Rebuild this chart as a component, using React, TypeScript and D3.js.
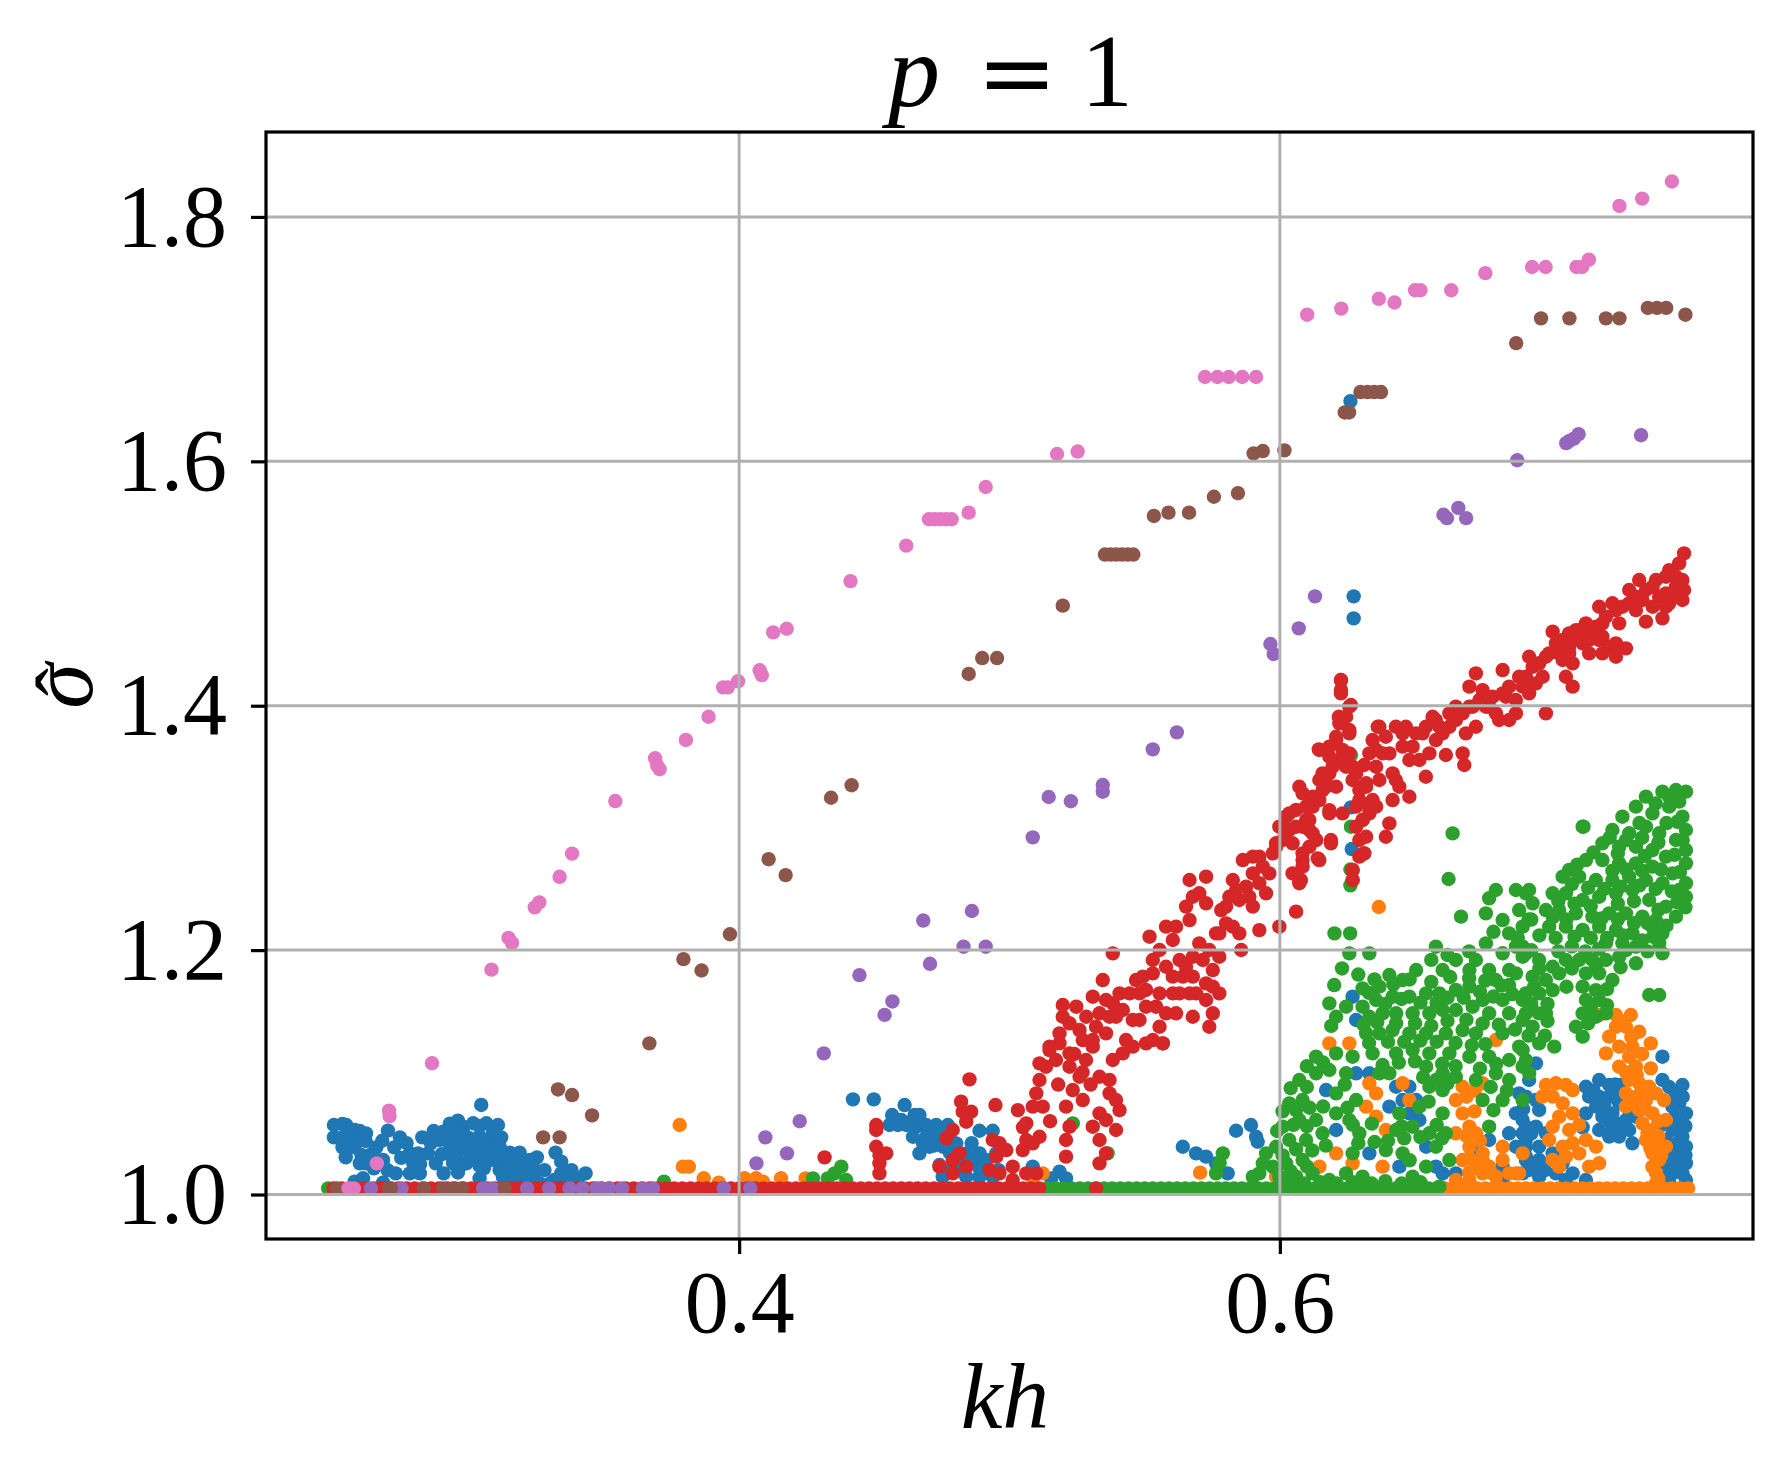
import { useEffect, useRef } from 'react';
import * as d3 from 'd3';

type Pt = [number, number];

// axis ticks
const xTicks = [0.4, 0.6];
const yTicks = [1.0, 1.2, 1.4, 1.6, 1.8];

// the flat row of points sitting just above sigma = 1
const floorLevel = 1.005;
const redFloorX = [
  0.25, 0.253, 0.256, 0.259, 0.262, 0.265, 0.268, 0.271, 0.274, 0.277, 0.28, 0.283, 0.286, 0.289, 0.292,
  0.295, 0.298, 0.301, 0.304, 0.307, 0.31, 0.313, 0.316, 0.319, 0.322, 0.325, 0.328, 0.331, 0.334, 0.337,
  0.34, 0.343, 0.346, 0.349, 0.352, 0.355, 0.358, 0.361, 0.364, 0.367, 0.37, 0.373, 0.376, 0.379, 0.382,
  0.385, 0.388, 0.391, 0.394, 0.397, 0.4, 0.403, 0.406, 0.409, 0.412, 0.415, 0.418, 0.421, 0.424, 0.427,
  0.43, 0.433, 0.436, 0.439, 0.442, 0.445, 0.448, 0.451, 0.454, 0.457, 0.46, 0.463, 0.466, 0.469, 0.472,
  0.475, 0.478, 0.481, 0.484, 0.487, 0.49, 0.493, 0.496, 0.499, 0.502, 0.505, 0.508, 0.511,
];
const greenFloorX = [
  0.248, 0.514, 0.517, 0.52, 0.523, 0.526, 0.529, 0.532, 0.535, 0.538, 0.541, 0.544, 0.547, 0.55, 0.553,
  0.556, 0.559, 0.562, 0.565, 0.568, 0.571, 0.574, 0.577, 0.58, 0.583, 0.586, 0.589, 0.592, 0.595, 0.598,
  0.601, 0.604, 0.607, 0.61, 0.613, 0.616, 0.619, 0.622, 0.625, 0.628, 0.631, 0.634, 0.637, 0.64, 0.643,
  0.646, 0.649, 0.652, 0.655, 0.658,
];
const orangeFloorX = [
  0.661, 0.664, 0.667, 0.67, 0.673, 0.676, 0.679, 0.682, 0.685, 0.688, 0.691, 0.694, 0.697, 0.7, 0.703,
  0.706, 0.709, 0.712, 0.715, 0.718, 0.721, 0.724, 0.727, 0.73, 0.733, 0.736, 0.739, 0.742, 0.745, 0.748,
  0.751,
];
const purpleFloorX = [
  0.2566, 0.2638, 0.2751, 0.3053, 0.3088, 0.3216, 0.3297, 0.3373, 0.342, 0.3472, 0.3491, 0.3519, 0.3567,
  0.3644, 0.3681, 0.3943, 0.4041,
];
const brownFloorX = [0.2512, 0.2705, 0.2712, 0.2834, 0.2905, 0.2942, 0.2974, 0.3133];
const pinkFloorX = [0.2555, 0.2575];

const bluePts: Pt[] = [
  [0.2501, 1.0569], [0.2533, 1.0577], [0.2547, 1.0569], [0.2578, 1.0528], [0.2597, 1.052], [0.2501, 1.0468],
  [0.2529, 1.0468], [0.256, 1.0468], [0.2591, 1.0474], [0.2619, 1.0438], [0.2533, 1.0386], [0.2545, 1.0304],
  [0.2578, 1.0386], [0.2603, 1.0324], [0.2597, 1.0255], [0.2621, 1.0255], [0.2658, 1.0386], [0.2649, 1.0214],
  [0.2683, 1.0283], [0.2701, 1.0523], [0.2724, 1.0386], [0.2745, 1.0468], [0.273, 1.0173], [0.2782, 1.0337],
  [0.2812, 1.0337], [0.2828, 1.0468], [0.2849, 1.0337], [0.2878, 1.0255], [0.2907, 1.0173], [0.2819, 1.0173],
  [0.2794, 1.0261], [0.2782, 1.0173], [0.2683, 1.0097], [0.2578, 1.0105], [0.2609, 1.0133], [0.2905, 1.0514],
  [0.296, 1.0604], [0.3016, 1.0583], [0.3065, 1.0583], [0.3108, 1.0569], [0.312, 1.0468], [0.2892, 1.0446],
  [0.2929, 1.0419], [0.2966, 1.0446], [0.3003, 1.046], [0.304, 1.0474], [0.3077, 1.046], [0.2917, 1.0337],
  [0.2954, 1.031], [0.2991, 1.0364], [0.3028, 1.0351], [0.3065, 1.0364], [0.3102, 1.0337], [0.2942, 1.0255],
  [0.2991, 1.0255], [0.304, 1.0234], [0.3083, 1.0283], [0.3114, 1.0392], [0.3046, 1.0733], [0.304, 1.0133],
  [0.3056, 1.0214], [0.3151, 1.0343], [0.3188, 1.0343], [0.3114, 1.0201], [0.3151, 1.0228], [0.3188, 1.0255],
  [0.3225, 1.0283], [0.3252, 1.0304], [0.3213, 1.0173], [0.3163, 1.0146], [0.3237, 1.0146], [0.3139, 1.0092],
  [0.3188, 1.0092], [0.3262, 1.0092], [0.3321, 1.0343], [0.3342, 1.0269], [0.3342, 1.0173], [0.3317, 1.0119],
  [0.3361, 1.0133], [0.3404, 1.0133], [0.3432, 1.0173], [0.2979, 1.0555], [0.309, 1.0514], [0.2936, 1.0514],
  [0.3022, 1.0419], [0.3059, 1.0419], [0.2954, 1.0392], [0.3114, 1.0283], [0.3016, 1.0283], [0.2966, 1.0228],
  [0.3176, 1.0173], [0.3237, 1.0228], [0.3126, 1.0146], [0.3213, 1.0092],
  [0.256, 1.052], [0.262, 1.05], [0.264, 1.033], [0.268, 1.044], [0.27, 1.02], [0.275, 1.03], [0.277, 1.042],
  [0.286, 1.042], [0.287, 1.052], [0.29, 1.033], [0.293, 1.058], [0.298, 1.05], [0.3, 1.04], [0.304, 1.056],
  [0.308, 1.04], [0.31, 1.045], [0.313, 1.026], [0.316, 1.03], [0.32, 1.02], [0.328, 1.02], [0.33, 1.009],
  [0.338, 1.02], [0.296, 1.018], [0.306, 1.03], [0.282, 1.025],
  [0.4421, 1.0779], [0.4498, 1.0779], [0.4612, 1.0732], [0.4566, 1.0651], [0.4649, 1.0651], [0.4667, 1.0651],
  [0.4556, 1.0569], [0.4587, 1.0569], [0.4618, 1.0569], [0.4655, 1.0555], [0.4692, 1.0569], [0.4729, 1.0569],
  [0.4772, 1.0569], [0.4643, 1.0473], [0.4692, 1.0473], [0.4729, 1.0473], [0.4778, 1.046], [0.4667, 1.0337],
  [0.4704, 1.0391], [0.4754, 1.0391], [0.4803, 1.0418], [0.4889, 1.0522], [0.4938, 1.0522], [0.484, 1.0337],
  [0.4889, 1.0337], [0.4914, 1.0282], [0.4951, 1.0337], [0.4741, 1.0241], [0.479, 1.0228], [0.484, 1.0228],
  [0.4889, 1.0214], [0.4753, 1.0146], [0.484, 1.0146], [0.4889, 1.0146], [0.4938, 1.0146], [0.5086, 1.0228],
  [0.5185, 1.0187], [0.5209, 1.0132], [0.5154, 1.0132], [0.5641, 1.0391], [0.569, 1.0337], [0.5727, 1.031],
  [0.5838, 1.0522], [0.5893, 1.0569], [0.5912, 1.0473], [0.5918, 1.0432], [0.5807, 1.0173], [0.5764, 1.0255],
  [0.46, 1.061], [0.464, 1.06], [0.47, 1.052], [0.474, 1.052], [0.468, 1.042], [0.472, 1.04], [0.478, 1.034],
  [0.482, 1.03], [0.486, 1.028], [0.49, 1.026], [0.496, 1.02], [0.483, 1.018], [0.486, 1.042],
  [0.643, 1.0882], [0.6479, 1.0882], [0.6454, 1.0773], [0.6504, 1.0773], [0.6405, 1.0719], [0.6479, 1.0664],
  [0.6516, 1.061], [0.6873, 1.0664], [0.6898, 1.061], [0.6848, 1.0501], [0.6898, 1.0501], [0.6873, 1.0391],
  [0.691, 1.0391], [0.691, 1.0282], [0.6898, 1.0173], [0.6824, 1.0228], [0.6602, 1.0173], [0.6577, 1.0228],
  [0.6541, 1.0391], [0.6282, 1.0992], [0.6171, 1.0855], [0.6208, 1.0528], [0.6331, 1.0992], [0.6269, 1.1619],
  [0.6282, 1.1428], [0.6651, 1.0173], [0.6331, 1.0337], [0.6442, 1.0228], [0.6725, 1.0337], [0.6774, 1.0446],
  [0.6824, 1.0119],
  [0.6947, 1.1073], [0.7415, 1.1128], [0.7489, 1.0896], [0.7132, 1.0882], [0.7181, 1.0937], [0.7218, 1.0896],
  [0.7255, 1.0896], [0.7144, 1.0801], [0.7181, 1.0801], [0.7218, 1.0801], [0.7255, 1.0746], [0.723, 1.0664],
  [0.728, 1.061], [0.7132, 1.0664], [0.7193, 1.0637], [0.6885, 1.0828], [0.691, 1.0801], [0.6947, 1.0773],
  [0.6959, 1.0692], [0.691, 1.0555], [0.6947, 1.0555], [0.6984, 1.0501], [0.691, 1.0446], [0.6959, 1.0392],
  [0.691, 1.031], [0.6959, 1.0283], [0.6922, 1.0201], [0.6959, 1.0146], [0.7083, 1.0173], [0.7132, 1.0119],
  [0.7181, 1.0528], [0.723, 1.0528], [0.7255, 1.0474], [0.7304, 1.0419], [0.7292, 1.0528], [0.7465, 1.0828],
  [0.7477, 1.0746], [0.7502, 1.0664], [0.7465, 1.0637], [0.7452, 1.0528], [0.7489, 1.0474], [0.7502, 1.0392],
  [0.7477, 1.031], [0.7502, 1.0256], [0.7489, 1.0173], [0.7452, 1.0173], [0.7428, 1.0146], [0.7502, 1.0119],
  [0.7317, 1.0637], [0.7403, 1.0555], [0.7415, 1.0937], [0.7428, 1.0446], [0.7452, 1.0719], [0.6922, 1.0937],
  [0.7021, 1.0173], [0.7058, 1.0119], [0.7218, 1.0474], [0.7009, 1.0337], [0.7046, 1.0256], [0.6885, 1.0664],
  [0.7477, 1.0555],
  [0.744, 1.088], [0.746, 1.078], [0.749, 1.08], [0.75, 1.056], [0.744, 1.06], [0.747, 1.042], [0.745, 1.034],
  [0.743, 1.025], [0.746, 1.026], [0.75, 1.032], [0.744, 1.01], [0.716, 1.085], [0.72, 1.074], [0.725, 1.08],
  [0.717, 1.072], [0.722, 1.06], [0.726, 1.058], [0.729, 1.07], [0.724, 1.09], [0.712, 1.055], [0.69, 1.07],
  [0.693, 1.05], [0.69, 1.038], [0.694, 1.025], [0.698, 1.02],
  [0.6261, 1.6493], [0.6273, 1.4895], [0.6273, 1.4715], [0.6263, 1.3168], [0.6266, 1.2827],
];

const orangePts: Pt[] = [
  [0.378, 1.0569], [0.3792, 1.0228], [0.3814, 1.0228], [0.3869, 1.0133], [0.3925, 1.0097], [0.402, 1.0133],
  [0.4063, 1.0133], [0.4088, 1.0105], [0.4155, 1.0133], [0.4246, 1.0132], [0.5086, 1.0132], [0.5123, 1.0173],
  [0.5705, 1.0179], [0.6366, 1.2353],
  [0.6183, 1.1237], [0.6257, 1.1237], [0.6331, 1.091], [0.6356, 1.0828], [0.6319, 1.0719], [0.6356, 1.0637],
  [0.6454, 1.091], [0.6479, 1.0773], [0.6392, 1.0528], [0.6676, 1.0882], [0.675, 1.091], [0.6651, 1.0773],
  [0.6676, 1.0664], [0.6701, 1.0555], [0.6651, 1.0501], [0.6701, 1.0391], [0.6676, 1.0282], [0.6725, 1.0228],
  [0.675, 1.0173], [0.6799, 1.0146], [0.6848, 1.0173], [0.6898, 1.0337], [0.6824, 1.0391], [0.6873, 1.0173],
  [0.6701, 1.0119], [0.6651, 1.0119], [0.6774, 1.0228], [0.6146, 1.0228], [0.6208, 1.0337], [0.6269, 1.0255],
  [0.5986, 1.0146], [0.638, 1.0228], [0.6799, 1.1264], [0.6725, 1.0501], [0.675, 1.0337], [0.6824, 1.0282],
  [0.669, 1.08], [0.672, 1.085], [0.672, 1.068], [0.669, 1.048], [0.674, 1.044], [0.67, 1.03], [0.675, 1.028],
  [0.678, 1.018], [0.67, 1.018],
  [0.7181, 1.1469], [0.7243, 1.1469], [0.7298, 1.1469], [0.7243, 1.1373], [0.728, 1.1373], [0.7329, 1.1332],
  [0.7372, 1.1237], [0.7218, 1.1292], [0.7206, 1.1155], [0.7255, 1.121], [0.7304, 1.121], [0.7292, 1.1128],
  [0.7255, 1.1046], [0.7317, 1.1046], [0.7372, 1.1032], [0.7292, 1.0937], [0.7329, 1.091], [0.7366, 1.0882],
  [0.728, 1.0828], [0.7317, 1.0801], [0.7354, 1.0773], [0.7391, 1.0828], [0.7421, 1.0773], [0.728, 1.0719],
  [0.7329, 1.0692], [0.7378, 1.0664], [0.7428, 1.061], [0.7341, 1.0582], [0.7378, 1.0528], [0.7354, 1.0446],
  [0.7391, 1.0419], [0.7428, 1.0392], [0.7378, 1.0337], [0.7403, 1.0283], [0.7378, 1.0228], [0.7391, 1.0092],
  [0.726, 1.142], [0.73, 1.129], [0.734, 1.115], [0.728, 1.1], [0.732, 1.098], [0.734, 1.086], [0.73, 1.076],
  [0.735, 1.07], [0.74, 1.06], [0.736, 1.05], [0.74, 1.048], [0.737, 1.038], [0.741, 1.032], [0.739, 1.018],
  [0.74, 1.013],
  [0.6984, 1.0896], [0.7021, 1.091], [0.7058, 1.0896], [0.7083, 1.0855], [0.6971, 1.0801], [0.7009, 1.0801],
  [0.7046, 1.0746], [0.7083, 1.0664], [0.7033, 1.0637], [0.7009, 1.0555], [0.707, 1.0528], [0.7107, 1.0569],
  [0.6996, 1.0446], [0.7046, 1.0392], [0.7083, 1.0419], [0.7132, 1.0446], [0.7169, 1.0392], [0.7009, 1.0283],
  [0.7058, 1.031], [0.7107, 1.0337], [0.7144, 1.0228], [0.7181, 1.0256], [0.7033, 1.0228], [0.6885, 1.0173],
];

const greenPts: Pt[] = [
  [0.3722, 1.0105], [0.4273, 1.0132], [0.4328, 1.0132], [0.4353, 1.0173], [0.4378, 1.0228], [0.4396, 1.0119],
  [0.5234, 1.0582], [0.5363, 1.0337], [0.5789, 1.0337], [0.5777, 1.0255], [0.5764, 1.0173], [0.5949, 1.0337],
  [0.5937, 1.0255], [0.5924, 1.0173], [0.59, 1.0146], [0.5986, 1.0214],
  [0.6263, 1.3596], [0.6263, 1.301], [0.6261, 1.266], [0.6261, 1.253], [0.6639, 1.2955], [0.6624, 1.2582],
  [0.7123, 1.301], [0.6202, 1.2137], [0.626, 1.2137], [0.6257, 1.1973], [0.6331, 1.1973],
  [0.6799, 1.2492], [0.6873, 1.2492], [0.6922, 1.2492], [0.6774, 1.2424],
  [0.6577, 1.2028], [0.6651, 1.1919], [0.667, 1.2274], [0.6762, 1.2301], [0.6824, 1.2246], [0.6848, 1.2137],
  [0.6898, 1.2192], [0.6762, 1.2055], [0.6725, 1.1919], [0.6824, 1.1974], [0.6873, 1.2028], [0.6898, 1.1946],
  [0.6848, 1.1837], [0.6799, 1.1755], [0.6848, 1.1714], [0.6873, 1.181], [0.6774, 1.1837], [0.6701, 1.1837],
  [0.6602, 1.1837], [0.6504, 1.1837], [0.6405, 1.1796], [0.6454, 1.1755], [0.6368, 1.1701], [0.6306, 1.1687],
  [0.6201, 1.1714], [0.6183, 1.1564], [0.6245, 1.1537], [0.6306, 1.1537], [0.6356, 1.1592], [0.6417, 1.1619],
  [0.6479, 1.1619], [0.6541, 1.1646], [0.659, 1.1646], [0.6651, 1.1674], [0.6701, 1.1701], [0.675, 1.1592],
  [0.6824, 1.1592], [0.6898, 1.1592], [0.6208, 1.1455], [0.6331, 1.1455], [0.638, 1.1483], [0.643, 1.1483],
  [0.6491, 1.1483], [0.6553, 1.1483], [0.6602, 1.151], [0.6651, 1.151], [0.6713, 1.1537], [0.6774, 1.1483],
  [0.6848, 1.1483], [0.6898, 1.1428], [0.6319, 1.1319], [0.6368, 1.1319], [0.6417, 1.1346],
  [0.6479, 1.1319], [0.6541, 1.1319], [0.6614, 1.1319], [0.6676, 1.1346], [0.6725, 1.1319], [0.6824, 1.1319],
  [0.6885, 1.121], [0.6134, 1.1128], [0.6208, 1.1155], [0.6269, 1.1128], [0.6343, 1.1155],
  [0.643, 1.1155], [0.6491, 1.1183], [0.6553, 1.1155], [0.6627, 1.1155], [0.6701, 1.1128], [0.6774, 1.1128],
  [0.6848, 1.1101], [0.6898, 1.1046], [0.6072, 1.0937], [0.6134, 1.0992], [0.6183, 1.1019], [0.6245, 1.0992],
  [0.6368, 1.0992], [0.6405, 1.0992], [0.6541, 1.1046], [0.6602, 1.0992], [0.6651, 1.0964],
  [0.6725, 1.0937], [0.6799, 1.0992], [0.6848, 1.0937], [0.6035, 1.0746], [0.6084, 1.0773],
  [0.6208, 1.0828], [0.6282, 1.0773], [0.6553, 1.0882], [0.6602, 1.0855],
  [0.675, 1.0773], [0.6824, 1.0773], [0.6898, 1.0773], [0.601, 1.0555], [0.6072, 1.061], [0.6134, 1.061],
  [0.6208, 1.0664], [0.6257, 1.061], [0.6442, 1.0664], [0.6516, 1.0719], [0.6602, 1.0664],
  [0.6774, 1.0555], [0.5986, 1.0391], [0.6035, 1.0446], [0.6097, 1.0446], [0.6158, 1.0501],
  [0.6294, 1.0501], [0.643, 1.0528], [0.6491, 1.0555], [0.6553, 1.0501], [0.6614, 1.0501], [0.5974, 1.0228],
  [0.6023, 1.0255], [0.6084, 1.0282], [0.6269, 1.0337], [0.6392, 1.0364], [0.6454, 1.0337],
  [0.6577, 1.0391], [0.6627, 1.0282], [0.5998, 1.0146], [0.606, 1.0146], [0.6121, 1.0173], [0.6183, 1.0119],
  [0.6245, 1.0173], [0.6306, 1.0146], [0.6491, 1.0146], [0.6541, 1.0228], [0.659, 1.0064],
  [0.633, 1.165], [0.639, 1.156], [0.645, 1.16], [0.652, 1.157], [0.658, 1.157], [0.662, 1.161], [0.668, 1.161],
  [0.674, 1.166], [0.679, 1.162], [0.686, 1.164], [0.619, 1.138], [0.631, 1.139], [0.636, 1.141], [0.643, 1.14],
  [0.65, 1.14], [0.656, 1.138], [0.662, 1.142], [0.669, 1.143], [0.675, 1.14], [0.681, 1.139], [0.687, 1.135],
  [0.633, 1.124], [0.64, 1.125], [0.646, 1.125], [0.652, 1.126], [0.658, 1.125], [0.665, 1.124], [0.671, 1.122],
  [0.676, 1.123], [0.61, 1.105], [0.616, 1.108], [0.638, 1.106], [0.644, 1.108], [0.65, 1.109], [0.66, 1.107],
  [0.665, 1.105], [0.674, 1.103], [0.68, 1.107], [0.604, 1.087], [0.61, 1.088], [0.624, 1.09], [0.653, 1.096],
  [0.658, 1.094], [0.662, 1.091], [0.678, 1.088], [0.684, 1.085], [0.601, 1.068], [0.606, 1.069], [0.611, 1.071],
  [0.616, 1.072], [0.625, 1.071], [0.655, 1.076], [0.679, 1.069], [0.599, 1.052], [0.605, 1.057], [0.61, 1.056],
  [0.627, 1.057], [0.634, 1.058], [0.645, 1.056], [0.658, 1.057], [0.601, 1.032], [0.606, 1.037], [0.612, 1.036],
  [0.617, 1.04], [0.629, 1.042], [0.635, 1.043], [0.64, 1.044], [0.646, 1.046], [0.652, 1.047], [0.66, 1.046],
  [0.604, 1.019], [0.61, 1.023], [0.648, 1.028], [0.603, 1.01], [0.609, 1.009], [0.615, 1.01], [0.621, 1.009],
  [0.627, 1.01], [0.634, 1.009], [0.639, 1.011], [0.645, 1.009], [0.652, 1.01],
  [0.623, 1.185], [0.629, 1.18], [0.635, 1.176], [0.642, 1.172], [0.648, 1.176], [0.656, 1.174], [0.663, 1.178],
  [0.67, 1.177], [0.676, 1.175], [0.682, 1.171], [0.656, 1.192], [0.662, 1.196], [0.67, 1.199], [0.679, 1.215],
  [0.688, 1.21], [0.692, 1.225],
  [0.7502, 1.3297], [0.7415, 1.3297], [0.7477, 1.3215], [0.7354, 1.3256], [0.7317, 1.3174], [0.7267, 1.3092],
  [0.712, 1.301], [0.7378, 1.3119], [0.744, 1.3174], [0.7489, 1.3092], [0.7502, 1.2983], [0.723, 1.2983],
  [0.7292, 1.2956], [0.7354, 1.301], [0.7403, 1.2956], [0.7465, 1.2901], [0.7502, 1.2819], [0.7193, 1.2874],
  [0.7255, 1.2846], [0.7317, 1.2846], [0.7378, 1.2819], [0.7428, 1.2765], [0.7502, 1.271], [0.7132, 1.2737],
  [0.7193, 1.2737], [0.7255, 1.271], [0.7317, 1.271], [0.7378, 1.2683], [0.7452, 1.2628], [0.7502, 1.2547],
  [0.707, 1.2656], [0.7046, 1.2601], [0.7107, 1.2601], [0.7169, 1.2574], [0.723, 1.2574], [0.7292, 1.2601],
  [0.7354, 1.2574], [0.7415, 1.2547], [0.7477, 1.2492], [0.7502, 1.2437], [0.7009, 1.2465], [0.7058, 1.2465],
  [0.712, 1.241], [0.7181, 1.2437], [0.7243, 1.2465], [0.7304, 1.2492], [0.7366, 1.241], [0.7428, 1.2356],
  [0.7465, 1.2274], [0.6984, 1.2328], [0.7033, 1.2328], [0.7095, 1.2301], [0.7156, 1.2274], [0.7218, 1.2301],
  [0.728, 1.2301], [0.7341, 1.2274], [0.7391, 1.2246], [0.6996, 1.2192], [0.7058, 1.2192], [0.712, 1.2165],
  [0.7181, 1.2192], [0.7243, 1.2165], [0.7304, 1.2137], [0.7378, 1.2192], [0.7415, 1.2137], [0.7206, 1.2056],
  [0.7267, 1.2056], [0.7317, 1.2028], [0.7403, 1.2056], [0.7415, 1.1974], [0.691, 1.2465], [0.6935, 1.2383],
  [0.6885, 1.2328], [0.6898, 1.2028], [0.691, 1.1974], [0.6959, 1.1919], [0.7009, 1.1864], [0.7058, 1.1919],
  [0.7107, 1.1919], [0.7156, 1.1919], [0.7206, 1.1919], [0.7255, 1.1946], [0.7317, 1.1892], [0.7132, 1.181],
  [0.7181, 1.181], [0.723, 1.1755], [0.6935, 1.1783], [0.6984, 1.1755], [0.7033, 1.181], [0.691, 1.1646],
  [0.6959, 1.1646], [0.7009, 1.1673], [0.712, 1.1701], [0.7169, 1.1673], [0.7132, 1.1592], [0.7181, 1.1592],
  [0.712, 1.1482], [0.7169, 1.1455], [0.7206, 1.1482], [0.6959, 1.1482], [0.691, 1.1482], [0.6984, 1.1482],
  [0.6935, 1.1373], [0.7095, 1.1373], [0.712, 1.1292], [0.6959, 1.1237], [0.7015, 1.121], [0.6898, 1.1183],
  [0.691, 1.1101], [0.6922, 1.0992], [0.7366, 1.1633], [0.7403, 1.1633],
  [0.744, 1.3256], [0.7465, 1.331], [0.739, 1.32], [0.733, 1.304], [0.743, 1.304], [0.747, 1.305], [0.722, 1.292],
  [0.728, 1.29], [0.734, 1.292], [0.74, 1.288], [0.749, 1.29], [0.716, 1.28], [0.725, 1.279], [0.735, 1.277],
  [0.746, 1.278], [0.71, 1.27], [0.723, 1.265], [0.728, 1.266], [0.734, 1.265], [0.741, 1.266], [0.748, 1.264],
  [0.708, 1.254], [0.714, 1.251], [0.72, 1.25], [0.726, 1.252], [0.733, 1.253], [0.739, 1.25], [0.745, 1.248],
  [0.75, 1.235], [0.703, 1.24], [0.709, 1.238], [0.715, 1.236], [0.725, 1.238], [0.731, 1.24], [0.74, 1.233],
  [0.747, 1.239], [0.693, 1.225], [0.701, 1.227], [0.706, 1.225], [0.719, 1.226], [0.725, 1.225], [0.731, 1.222],
  [0.736, 1.222], [0.743, 1.22], [0.696, 1.212], [0.702, 1.21], [0.709, 1.211], [0.715, 1.21], [0.721, 1.21],
  [0.727, 1.212], [0.734, 1.208], [0.738, 1.211], [0.693, 1.2], [0.703, 1.199], [0.708, 1.203], [0.713, 1.199],
  [0.718, 1.201], [0.728, 1.2], [0.736, 1.199], [0.696, 1.185], [0.708, 1.185], [0.717, 1.185], [0.726, 1.186],
  [0.694, 1.17], [0.706, 1.17], [0.721, 1.168], [0.693, 1.156], [0.699, 1.156], [0.715, 1.153], [0.721, 1.155],
  [0.699, 1.142], [0.714, 1.14], [0.692, 1.13], [0.698, 1.13],
];

const redPts: Pt[] = [
  [0.532, 1.005], [0.4316, 1.0304], [0.4852, 1.0942], [0.4948, 1.0732], [0.4507, 1.0569], [0.4507, 1.0528],
  [0.4507, 1.0391], [0.4519, 1.0323], [0.4519, 1.0255], [0.4519, 1.0173], [0.4544, 1.0337], [0.4741, 1.0228],
  [0.4766, 1.046], [0.479, 1.0528], [0.4821, 1.076], [0.4827, 1.0678], [0.484, 1.0596], [0.4858, 1.0678],
  [0.479, 1.0282], [0.4815, 1.0337], [0.484, 1.0228], [0.479, 1.0173], [0.4938, 1.0446], [0.4963, 1.0419],
  [0.4988, 1.0364], [0.4951, 1.031], [0.4926, 1.0201], [0.4963, 1.0173], [0.5012, 1.0228], [0.5012, 1.0119],
  [0.5062, 1.0173], [0.5099, 1.0173], [0.5049, 1.0364], [0.5062, 1.0446], [0.5086, 1.0419], [0.5111, 1.0473],
  [0.5031, 1.0691], [0.5062, 1.0582], [0.5086, 1.0719], [0.5123, 1.0719], [0.5099, 1.0828], [0.5111, 1.0937],
  [0.5135, 1.1046], [0.5172, 1.1101], [0.5148, 1.1182], [0.5185, 1.1237], [0.5222, 1.1046], [0.5234, 1.0855],
  [0.5209, 1.0719], [0.5222, 1.0555], [0.5209, 1.0446], [0.5259, 1.0964], [0.5283, 1.1101], [0.5308, 1.121],
  [0.5333, 1.0964], [0.537, 1.0937], [0.5382, 1.1101], [0.5419, 1.1155], [0.5456, 1.121], [0.5505, 1.1237],
  [0.5567, 1.1237], [0.537, 1.0828], [0.5394, 1.0773], [0.5407, 1.0691], [0.5333, 1.0664], [0.5308, 1.0555],
  [0.5357, 1.061], [0.5333, 1.0446], [0.5357, 1.0337], [0.5333, 1.0255], [0.5394, 1.0528], [0.5271, 1.0773],
  [0.5209, 1.031], [0.505, 1.055], [0.515, 1.06], [0.518, 1.09], [0.524, 1.115], [0.527, 1.1], [0.53, 1.09],
  [0.5111, 1.1073], [0.5148, 1.121], [0.5185, 1.1319], [0.5197, 1.1455], [0.5197, 1.1551], [0.5259, 1.1346],
  [0.5284, 1.1455], [0.5308, 1.1619], [0.5333, 1.1483], [0.5357, 1.1319], [0.5382, 1.1564], [0.5407, 1.1646],
  [0.5394, 1.1455], [0.5431, 1.1264], [0.5456, 1.1428], [0.5481, 1.1646], [0.5505, 1.1537], [0.5493, 1.1783],
  [0.553, 1.181], [0.5555, 1.1646], [0.5579, 1.1483], [0.553, 1.1264], [0.5567, 1.1237], [0.5518, 1.211],
  [0.5555, 1.2001], [0.553, 1.1919], [0.5579, 1.2192], [0.5604, 1.2083], [0.5629, 1.1919], [0.5604, 1.1783],
  [0.5653, 1.1864], [0.5666, 1.1646], [0.5678, 1.1946], [0.5702, 1.2055], [0.5727, 1.1728], [0.5727, 1.1592],
  [0.5752, 1.1483], [0.5752, 1.1837], [0.5776, 1.1946], [0.5776, 1.1646], [0.5678, 1.1455], [0.5739, 1.1373],
  [0.5653, 1.2356], [0.5678, 1.2437], [0.5727, 1.2601], [0.5702, 1.2465], [0.5727, 1.2383], [0.5666, 1.2246],
  [0.5616, 1.2192], [0.5666, 1.2574], [0.5783, 1.2328], [0.5776, 1.2137], [0.5801, 1.2219], [0.5813, 1.2437],
  [0.5826, 1.2574], [0.585, 1.241], [0.5863, 1.2737], [0.5875, 1.2519], [0.59, 1.2628], [0.5924, 1.2765],
  [0.59, 1.2356], [0.5924, 1.2164], [0.585, 1.2137], [0.5857, 1.2001], [0.5998, 1.2192], [0.5986, 1.2874],
  [0.5961, 1.2628], [0.5949, 1.2465], [0.5998, 1.301], [0.6023, 1.3092], [0.6047, 1.2874], [0.606, 1.3147],
  [0.6084, 1.2792], [0.6072, 1.2574], [0.6084, 1.3283], [0.6097, 1.3174], [0.6109, 1.2983], [0.6134, 1.2901],
  [0.6146, 1.3228], [0.6171, 1.3365], [0.6195, 1.3501], [0.6146, 1.3392], [0.6183, 1.3119], [0.6208, 1.3719],
  [0.622, 1.3856], [0.6146, 1.3638], [0.6183, 1.3447], [0.6226, 1.4129], [0.6226, 1.421], [0.6257, 1.3992],
  [0.6257, 1.3774], [0.6269, 1.3501], [0.6319, 1.3365], [0.6343, 1.3228], [0.6306, 1.3065], [0.6294, 1.2901],
  [0.6312, 1.2792], [0.6269, 1.2656], [0.6269, 1.2574], [0.6072, 1.2547], [0.606, 1.2315], [0.6121, 1.2956],
  [0.5382, 1.1973], [0.5345, 1.1755], [0.614, 1.2751], [0.6189, 1.2874], [0.6282, 1.3174], [0.6356, 1.3638],
  [0.6362, 1.3828], [0.5579, 1.1864], [0.5629, 1.1646], [0.5481, 1.1428], [0.5308, 1.1264], [0.5222, 1.1155],
  [0.5222, 1.1401], [0.5247, 1.1537], [0.5271, 1.1264], [0.532, 1.1373], [0.5357, 1.1592], [0.537, 1.1455],
  [0.5419, 1.151], [0.5444, 1.1646], [0.5468, 1.1755], [0.5505, 1.1674], [0.5542, 1.1537], [0.5555, 1.1373],
  [0.5604, 1.1646], [0.5616, 1.1483], [0.5641, 1.1783], [0.5678, 1.1783], [0.569, 1.1646], [0.5715, 1.1919],
  [0.5739, 1.2001], [0.5752, 1.1701], [0.5764, 1.2137], [0.5801, 1.2356], [0.5826, 1.2192], [0.5838, 1.2492],
  [0.5887, 1.2437], [0.59, 1.2765], [0.5924, 1.2547], [0.5937, 1.2683], [0.5974, 1.2792], [0.6011, 1.2901],
  [0.6035, 1.2983], [0.606, 1.301], [0.6097, 1.3065], [0.6121, 1.3174], [0.6158, 1.331], [0.6084, 1.2683],
  [0.6109, 1.2846], [0.6047, 1.2628], [0.6183, 1.3583], [0.6232, 1.3638], [0.6245, 1.391], [0.6294, 1.331],
  [0.6331, 1.3174], [0.6282, 1.301], [0.6294, 1.2765], [0.6319, 1.2928],
  [0.5986, 1.2846], [0.6035, 1.3119], [0.6072, 1.3337], [0.6084, 1.301], [0.6084, 1.2737], [0.6078, 1.2574],
  [0.6121, 1.3255], [0.6134, 1.2901], [0.6146, 1.2737], [0.6158, 1.3446], [0.6183, 1.3146], [0.6189, 1.2901],
  [0.6208, 1.3746], [0.622, 1.3556], [0.6208, 1.3337], [0.6245, 1.3501], [0.6257, 1.3801], [0.6269, 1.3392],
  [0.6294, 1.3228], [0.6319, 1.3337], [0.6306, 1.3065], [0.6331, 1.3119], [0.6356, 1.3174], [0.6392, 1.2928],
  [0.6405, 1.3037], [0.6312, 1.2792], [0.6269, 1.2655], [0.6269, 1.2574], [0.6226, 1.421], [0.6226, 1.4101],
  [0.6263, 1.4006], [0.6218, 1.391], [0.6144, 1.3643], [0.6312, 1.3515], [0.6183, 1.3665], [0.6368, 1.3828],
  [0.6343, 1.3719], [0.638, 1.361], [0.6356, 1.3501], [0.6429, 1.3828], [0.6466, 1.3828], [0.6454, 1.3665],
  [0.6417, 1.3446], [0.6442, 1.3337], [0.6479, 1.3556], [0.6503, 1.3774], [0.6528, 1.3774], [0.6553, 1.361],
  [0.654, 1.3419], [0.6479, 1.3255], [0.6417, 1.3228], [0.6429, 1.3392], [0.6577, 1.3719], [0.659, 1.3828],
  [0.6565, 1.391], [0.6627, 1.3937], [0.6651, 1.3992], [0.6614, 1.3597], [0.6676, 1.361], [0.6682, 1.3515],
  [0.6688, 1.3774], [0.6725, 1.3828], [0.6713, 1.3992], [0.6725, 1.4265], [0.6701, 1.4156], [0.675, 1.4128],
  [0.6774, 1.3992], [0.6811, 1.3883], [0.6824, 1.4292], [0.6836, 1.4074], [0.6873, 1.3937], [0.6848, 1.3883],
  [0.6898, 1.4156], [0.6922, 1.4101], [0.6947, 1.4183], [0.6922, 1.4401], [0.6984, 1.3937], [0.6959, 1.4347],
  [0.7009, 1.4606], [0.6984, 1.4401], [0.7033, 1.4428], [0.707, 1.4483], [0.7083, 1.4347], [0.7083, 1.4156],
  [0.7058, 1.4237], [0.7107, 1.4619], [0.7144, 1.4592], [0.7181, 1.4538], [0.7193, 1.4428], [0.7243, 1.4401],
  [0.728, 1.4469], [0.7218, 1.4483], [0.7144, 1.4428], [0.7181, 1.481], [0.723, 1.4838], [0.7267, 1.481],
  [0.7292, 1.4947], [0.7329, 1.5029], [0.7354, 1.4947], [0.7379, 1.481], [0.7354, 1.4688], [0.7415, 1.4715],
  [0.7391, 1.5029], [0.7428, 1.5056], [0.744, 1.511], [0.7477, 1.5165], [0.7495, 1.5247], [0.7465, 1.4974],
  [0.7489, 1.5029], [0.7495, 1.4947], [0.7489, 1.4865], [0.744, 1.4838], [0.7428, 1.4919], [0.7193, 1.4674],
  [0.7107, 1.4538], [0.707, 1.4592],
  [0.6109, 1.3065], [0.6171, 1.3337], [0.6232, 1.3119], [0.6257, 1.361], [0.6282, 1.3446], [0.6331, 1.361],
  [0.6368, 1.3392], [0.6392, 1.3746], [0.6405, 1.361], [0.6454, 1.3774], [0.6491, 1.3665], [0.6516, 1.3556],
  [0.654, 1.3828], [0.6577, 1.3883], [0.6602, 1.3774], [0.6627, 1.3828], [0.6651, 1.3883], [0.6676, 1.3937],
  [0.6701, 1.3992], [0.6738, 1.4047], [0.6762, 1.3992], [0.6787, 1.4074], [0.6799, 1.3937], [0.6824, 1.4101],
  [0.6848, 1.4156], [0.6873, 1.4047], [0.6885, 1.4237], [0.691, 1.4237], [0.6935, 1.4319], [0.6972, 1.4237],
  [0.6996, 1.4428], [0.7021, 1.451], [0.7046, 1.4374], [0.707, 1.4428], [0.7095, 1.4619], [0.712, 1.451],
  [0.7132, 1.4674], [0.7169, 1.4647], [0.7206, 1.4729], [0.7243, 1.4783], [0.7255, 1.4674], [0.7292, 1.4838],
  [0.7317, 1.4892], [0.7341, 1.4865], [0.7379, 1.4974], [0.7403, 1.4892], [0.7428, 1.481], [0.7452, 1.4892],
  [0.7465, 1.5056], [0.7317, 1.4783], [0.7193, 1.4565], [0.7243, 1.451], [0.7144, 1.4538], [0.7046, 1.4538],
];

const purplePts: Pt[] = [
  [0.4064, 1.0255], [0.4097, 1.0468], [0.4177, 1.0337], [0.4224, 1.06], [0.4313, 1.1155], [0.4445, 1.1795],
  [0.4538, 1.147], [0.4567, 1.158], [0.4681, 1.2242], [0.4706, 1.1888], [0.483, 1.2028], [0.4912, 1.2028],
  [0.4861, 1.232], [0.5086, 1.2923], [0.5145, 1.3253], [0.5227, 1.3218], [0.5345, 1.3351], [0.5345, 1.3296],
  [0.553, 1.3643], [0.5619, 1.3782], [0.5965, 1.4505], [0.5977, 1.4423], [0.607, 1.4633], [0.613, 1.4895],
  [0.6605, 1.5563], [0.6618, 1.5535], [0.666, 1.5619], [0.6689, 1.5535], [0.6878, 1.6009], [0.7059, 1.6149],
  [0.7071, 1.6167], [0.7088, 1.6186], [0.7105, 1.6223], [0.7336, 1.6214],
];

const brownPts: Pt[] = [
  [0.3275, 1.0468], [0.3336, 1.0468], [0.333, 1.086], [0.3382, 1.0814], [0.3456, 1.0648], [0.3668, 1.1237],
  [0.3794, 1.1926], [0.3861, 1.1833], [0.3966, 1.213], [0.4109, 1.2744], [0.4172, 1.2614], [0.434, 1.3247],
  [0.4416, 1.3349], [0.4849, 1.426], [0.4899, 1.439], [0.4954, 1.439], [0.5197, 1.4819], [0.5353, 1.5237],
  [0.5374, 1.5237], [0.5395, 1.5237], [0.5416, 1.5237], [0.5437, 1.5237], [0.5458, 1.5237], [0.5534, 1.5553],
  [0.5588, 1.558], [0.5664, 1.558], [0.5756, 1.571], [0.5845, 1.574], [0.5903, 1.6065], [0.5937, 1.6084],
  [0.6017, 1.609], [0.624, 1.64], [0.6256, 1.64], [0.6298, 1.6567], [0.6324, 1.6567], [0.6349, 1.6567],
  [0.6374, 1.6567], [0.6874, 1.6967], [0.6966, 1.717], [0.7071, 1.717], [0.7206, 1.717], [0.7256, 1.717],
  [0.7361, 1.7256], [0.7395, 1.7256], [0.7429, 1.7256], [0.75, 1.72],
];

const pinkPts: Pt[] = [
  [0.266, 1.0255], [0.2705, 1.0686], [0.2707, 1.0642], [0.2864, 1.1074], [0.3084, 1.184], [0.3147, 1.21],
  [0.316, 1.206], [0.3244, 1.235], [0.3261, 1.239], [0.3336, 1.26], [0.3382, 1.279], [0.3542, 1.322],
  [0.3689, 1.357], [0.3697, 1.351], [0.3706, 1.348], [0.3803, 1.372], [0.3887, 1.391], [0.3941, 1.415],
  [0.3958, 1.415], [0.3996, 1.42], [0.4076, 1.429], [0.4084, 1.425], [0.4126, 1.46], [0.4176, 1.463],
  [0.4412, 1.502], [0.4618, 1.531], [0.4702, 1.5526], [0.4723, 1.5526], [0.4744, 1.5526], [0.4765, 1.5526],
  [0.4786, 1.5526], [0.4849, 1.558], [0.4912, 1.579], [0.5176, 1.606], [0.5252, 1.608], [0.5723, 1.669],
  [0.5769, 1.669], [0.5811, 1.669], [0.5861, 1.669], [0.5912, 1.669], [0.6101, 1.72], [0.6227, 1.725],
  [0.6366, 1.733], [0.6424, 1.73], [0.65, 1.74], [0.652, 1.74], [0.6634, 1.74], [0.676, 1.754], [0.6933, 1.759],
  [0.6983, 1.759], [0.7097, 1.759], [0.7118, 1.759], [0.7143, 1.765], [0.7256, 1.809], [0.734, 1.815],
  [0.745, 1.829],
];

// matplotlib tab10, in plotting order
const seriesColors = ['#1f77b4', '#ff7f0e', '#2ca02c', '#d62728', '#9467bd', '#8c564b', '#e377c2'];
const seriesPts = [bluePts, orangePts, greenPts, redPts, purplePts, brownPts, pinkPts];
const seriesFloors: number[][] = [[], orangeFloorX, greenFloorX, redFloorX, purpleFloorX, brownFloorX, pinkFloorX];

const W = 1783;
const H = 1478;
const SERIF = '"Liberation Serif", "DejaVu Serif", serif';

const App = () => {
  const ref = useRef<SVGSVGElement | null>(null);

  useEffect(() => {
    if (!ref.current) return;
    const svg = d3.select(ref.current);
    svg.selectAll('*').remove();

    const box = { left: 266, right: 1753, top: 132, bottom: 1239 };

    const x = d3.scaleLinear().domain([0.225, 0.775]).range([box.left, box.right]);
    const y = d3.scaleLinear().domain([0.9636, 1.8695]).range([box.bottom, box.top]);

    svg.append('rect').attr('width', W).attr('height', H).attr('fill', '#fff');

    const plot = svg.append('g');
    plot
      .append('clipPath')
      .attr('id', 'plot-clip')
      .append('rect')
      .attr('x', box.left)
      .attr('y', box.top)
      .attr('width', box.right - box.left)
      .attr('height', box.bottom - box.top);

    const dots = plot.append('g').attr('clip-path', 'url(#plot-clip)');
    seriesPts.forEach((pts, i) => {
      const floor: Pt[] = seriesFloors[i].map((v) => [v, floorLevel]);
      dots
        .append('g')
        .selectAll('circle')
        .data([...floor, ...pts])
        .join('circle')
        .attr('cx', (d) => x(d[0]))
        .attr('cy', (d) => y(d[1]))
        .attr('r', 7.2)
        .attr('fill', seriesColors[i]);
    });

    // grid sits above the scatter, as in matplotlib's default
    const grid = plot.append('g').attr('stroke', '#b0b0b0').attr('stroke-width', 3);
    grid
      .selectAll('line.gx')
      .data(xTicks)
      .join('line')
      .attr('x1', (d) => x(d))
      .attr('x2', (d) => x(d))
      .attr('y1', box.top)
      .attr('y2', box.bottom);
    grid
      .selectAll('line.gy')
      .data(yTicks)
      .join('line')
      .attr('x1', box.left)
      .attr('x2', box.right)
      .attr('y1', (d) => y(d))
      .attr('y2', (d) => y(d));

    const xAxis = svg
      .append('g')
      .attr('transform', `translate(0,${box.bottom})`)
      .call(d3.axisBottom(x).tickValues(xTicks).tickSize(15).tickPadding(16).tickFormat(d3.format('.1f')));
    const yAxis = svg
      .append('g')
      .attr('transform', `translate(${box.left},0)`)
      .call(d3.axisLeft(y).tickValues(yTicks).tickSize(15).tickPadding(24).tickFormat(d3.format('.1f')));
    [xAxis, yAxis].forEach((ax) => {
      ax.select('.domain').remove();
      ax.selectAll('line').attr('stroke', '#000').attr('stroke-width', 3.2);
      ax.selectAll('text').attr('font-family', SERIF).attr('font-size', 88).attr('fill', '#000');
    });

    svg
      .append('rect')
      .attr('x', box.left)
      .attr('y', box.top)
      .attr('width', box.right - box.left)
      .attr('height', box.bottom - box.top)
      .attr('fill', 'none')
      .attr('stroke', '#000')
      .attr('stroke-width', 3.2);

    // title  p = 1
    const title = svg.append('g').attr('font-family', SERIF).attr('font-size', 104).attr('text-anchor', 'middle');
    title.append('text').attr('x', 914).attr('y', 106).attr('font-style', 'italic').text('p');
    title
      .append('text')
      .attr('x', 1017)
      .attr('y', 106)
      .attr('font-family', '"DejaVu Serif", serif')
      .attr('font-size', 96)
      .text('=');
    title.append('text').attr('x', 1107).attr('y', 106).text('1');

    svg
      .append('text')
      .attr('x', 1005)
      .attr('y', 1428)
      .attr('text-anchor', 'middle')
      .attr('font-family', SERIF)
      .attr('font-style', 'italic')
      .attr('font-size', 94)
      .text('kh');

    const ylab = svg
      .append('g')
      .attr('transform', 'translate(92,686) rotate(-90)')
      .attr('font-family', SERIF)
      .attr('font-size', 92)
      .attr('text-anchor', 'middle');
    ylab.append('text').attr('x', 0).attr('y', 0).attr('font-style', 'italic').text('σ');
    ylab.append('text').attr('x', 4).attr('y', 2).attr('font-size', 84).text('ˆ');
  }, []);

  return (
    <svg
      ref={ref}
      width={W}
      height={H}
      style={{ position: 'absolute', left: 0, top: 0 }}
      role="img"
      aria-label="Scatter of sigma hat versus kh"
    />
  );
};

export default App;
